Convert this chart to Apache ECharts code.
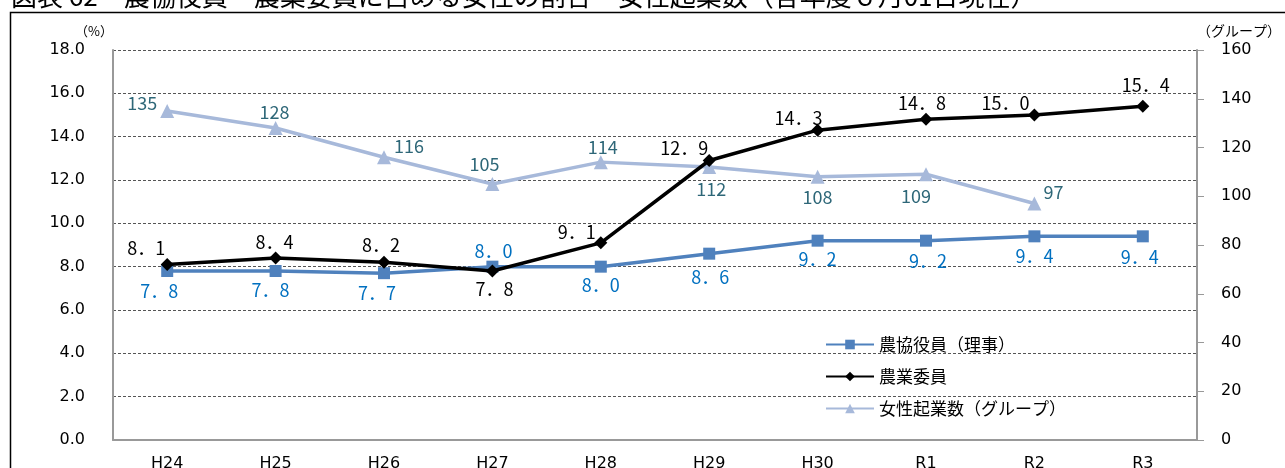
<!DOCTYPE html>
<html>
<head>
<meta charset="utf-8">
<script src="https://cdn.jsdelivr.net/npm/echarts@6/dist/echarts.min.js"></script>
<style>
  html, body { margin: 0; padding: 0; background: #fff; }
  #main { width: 1285px; height: 468px; }
</style>
</head>
<body>
<div id="main"></div>
<script>
// 年度
var years = ['H24', 'H25', 'H26', 'H27', 'H28', 'H29', 'H30', 'R1', 'R2', 'R3'];
// 農協役員（理事）に占める女性の割合 (%)
var jaRate = [7.8, 7.8, 7.7, 8.0, 8.0, 8.6, 9.2, 9.2, 9.4, 9.4];
// 農業委員に占める女性の割合 (%)
var iinRate = [8.1, 8.4, 8.2, 7.8, 9.1, 12.9, 14.3, 14.8, 15.0, 15.4];
// 女性起業数（グループ）
var groups = [135, 128, 116, 105, 114, 112, 108, 109, 97, null];

var leftTicks = { min: 0, max: 18, interval: 2 };
var rightTicks = { min: 0, max: 160, interval: 20 };

// ラベルの位置ずらし（点からの距離）
var jaOffset = [[-8, 20], [-5, 19], [-7, 20], [1, -16], [0, 18], [1, 23], [0, 18], [2, 20], [0, 20], [-3, 21]];
var iinOffset = [[-21, -16], [-1, -16], [-3, -17], [2, 18], [-24, -11], [-25, -12], [-19, -12], [-4, -16], [-29, -12], [3, -21]];
var grpOffset = [[-25, -8], [-1, -16], [25, -11], [-8, -20], [2, -15], [2, 22], [0, 20], [-10, 22], [19, -11], [0, 0]];

var labelFont = 'Noto Sans CJK JP';

function pct(p) {
    return p.value.toFixed(1).replace('.', '．');
}

function withLabels(values, offsets) {
    var arr = [];
    for (var i = 0; i < values.length; i++) {
        arr.push({ value: values[i], label: { offset: offsets[i] } });
    }
    return arr;
}

var myChart = echarts.init(document.getElementById('main'));

var option = {
    backgroundColor: '#fff',
    animation: false,
    title: {
        text: '図表 62　農協役員・農業委員に占める女性の割合・女性起業数（各年度６月01日現在）',
        left: 6,
        top: -22,
        textStyle: { fontFamily: labelFont, fontSize: 26, fontWeight: 'normal', color: '#000' }
    },
    graphic: [{
        type: 'rect',
        silent: true,
        z: -1,
        shape: { x: 10.5, y: 12.5, width: 1400, height: 600 },
        style: { fill: 'none', stroke: '#000', lineWidth: 1.5 }
    }],
    legend: {
        orient: 'vertical',
        left: 820,
        top: 331,
        itemWidth: 48,
        itemHeight: 12,
        itemGap: 15,
        data: ['農協役員（理事）', '農業委員', '女性起業数（グループ）'],
        textStyle: { fontFamily: labelFont, fontSize: 17, color: '#000' }
    },
    grid: { left: 113, right: 88, top: 50, bottom: 28, outerBoundsMode: 'none' },
    xAxis: {
        type: 'category',
        data: years,
        boundaryGap: true,
        axisLine: { lineStyle: { color: '#999', width: 2 } },
        axisTick: { alignWithLabel: true, length: 5, lineStyle: { color: '#999' } },
        axisLabel: { margin: 16, fontFamily: 'DejaVu Sans', fontSize: 16, color: '#000' }
    },
    yAxis: [{
        type: 'value',
        min: leftTicks.min,
        max: leftTicks.max,
        interval: leftTicks.interval,
        name: '（%）',
        nameGap: 12,
        nameTextStyle: { align: 'right', fontFamily: labelFont, fontSize: 13, color: '#000' },
        axisLine: { show: true, lineStyle: { color: '#999', width: 2 } },
        axisTick: { show: false },
        axisLabel: {
            margin: 28,
            fontFamily: 'DejaVu Sans', fontSize: 16, color: '#000',
            formatter: function (v) { return v.toFixed(1); }
        },
        splitLine: { lineStyle: { color: '#555', type: [3, 2], width: 1 } }
    }, {
        type: 'value',
        position: 'right',
        min: rightTicks.min,
        max: rightTicks.max,
        interval: rightTicks.interval,
        name: '（グループ）',
        nameGap: 12,
        nameTextStyle: { align: 'left', fontFamily: labelFont, fontSize: 14, color: '#000' },
        axisLine: { show: true, lineStyle: { color: '#999', width: 2 } },
        axisTick: { show: true, length: 7, lineStyle: { color: '#999' } },
        axisLabel: { margin: 24, fontFamily: 'DejaVu Sans', fontSize: 16, color: '#000' },
        splitLine: { show: false }
    }],
    series: [{
        name: '女性起業数（グループ）',
        type: 'line',
        yAxisIndex: 1,
        z: 2,
        data: withLabels(groups, grpOffset),
        symbol: 'triangle',
        symbolSize: 14,
        color: '#A7B9DA',
        lineStyle: { width: 3.5, color: '#A7B9DA' },
        itemStyle: { color: '#A7B9DA' },
        label: {
            show: true, position: 'inside',
            fontFamily: labelFont, fontSize: 18, color: '#2E6778'
        }
    }, {
        name: '農協役員（理事）',
        type: 'line',
        z: 3,
        data: withLabels(jaRate, jaOffset),
        symbol: 'rect',
        symbolSize: 12,
        color: '#4F81BD',
        lineStyle: { width: 3.5, color: '#4F81BD' },
        itemStyle: { color: '#4F81BD' },
        label: {
            show: true, position: 'inside', formatter: pct,
            fontFamily: labelFont, fontSize: 18, color: '#0070C0'
        }
    }, {
        name: '農業委員',
        type: 'line',
        z: 4,
        data: withLabels(iinRate, iinOffset),
        symbol: 'diamond',
        symbolSize: 13,
        color: '#000',
        lineStyle: { width: 3.5, color: '#000' },
        itemStyle: { color: '#000' },
        label: {
            show: true, position: 'inside', formatter: pct,
            fontFamily: labelFont, fontSize: 18, color: '#000'
        }
    }]
};

myChart.setOption(option);
</script>
</body>
</html>
